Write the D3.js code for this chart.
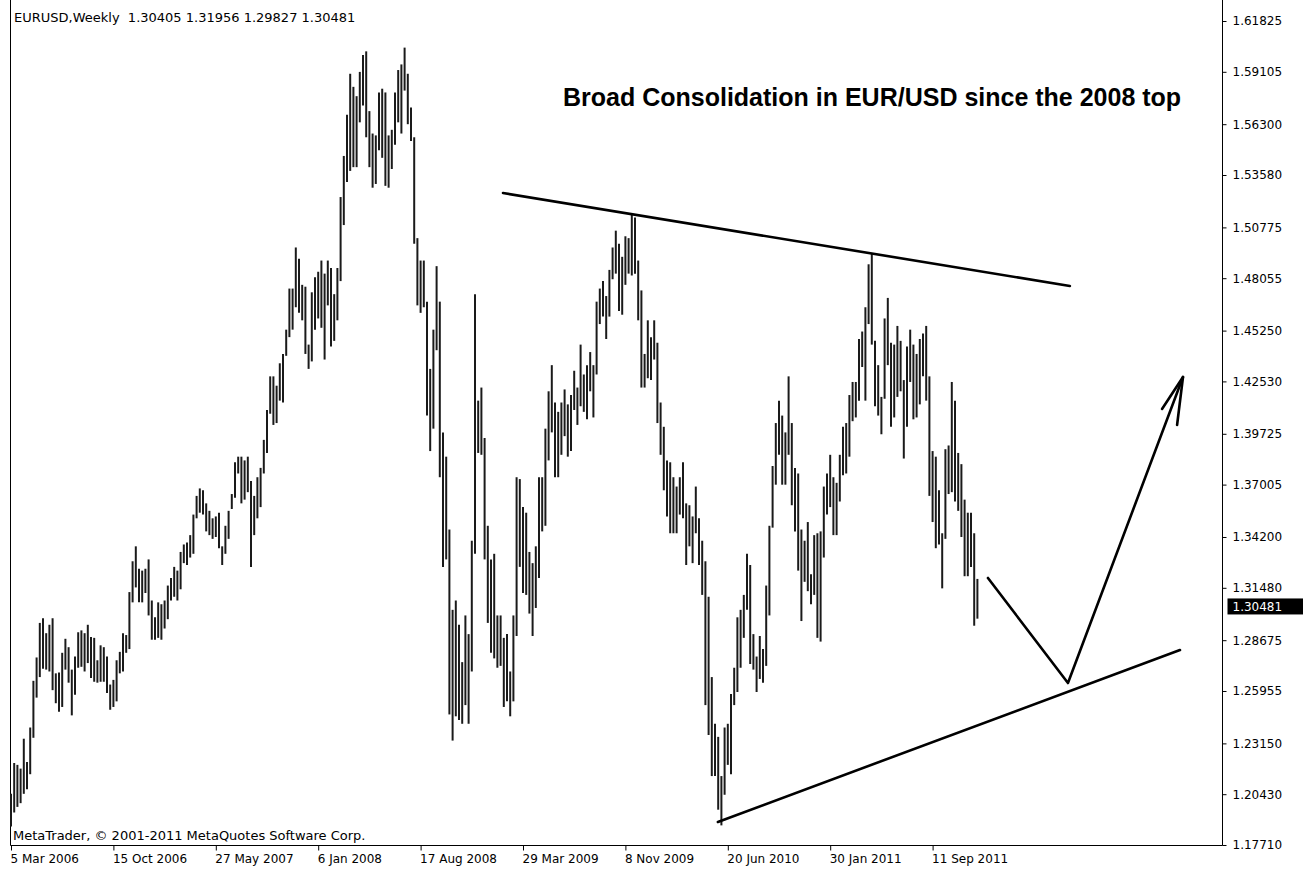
<!DOCTYPE html>
<html><head><meta charset="utf-8">
<script src="https://cdn.jsdelivr.net/npm/d3@7"></script>
<style>body{margin:0;background:#fff;} svg{display:block;}</style>
</head><body><svg id="c" width="1303" height="870"></svg>
<script>
// ---------- data ----------
const symbolName = "EURUSD,Weekly";
const lastBarOHLC = ["1.30405", "1.31956", "1.29827", "1.30481"];
const currentPrice = 1.30481;
const chartTitle = "Broad Consolidation in EUR/USD since the 2008 top";
const copyrightText = "MetaTrader, \u00A9 2001-2011 MetaQuotes Software Corp.";

// weekly highs / lows, one per week starting 5 Mar 2006
const weekHighs = [
1.2045,1.2210,1.2200,1.2180,1.2340,1.2215,1.2400,1.2650,1.2775,1.2960,
1.2985,1.2905,1.2950,1.2985,1.2690,1.2695,1.2800,1.2875,1.2830,1.2710,
1.2780,1.2910,1.2920,1.2905,1.2950,1.2885,1.2880,1.2760,1.2840,1.2830,
1.2780,1.2630,1.2655,1.2760,1.2805,1.2905,1.2895,1.3125,1.3290,1.3370,
1.3250,1.3240,1.3250,1.3300,1.3080,1.2990,1.3070,1.3060,1.3080,1.3160,
1.3200,1.3260,1.3240,1.3340,1.3380,1.3390,1.3430,1.3540,1.3640,1.3680,
1.3670,1.3600,1.3560,1.3520,1.3530,1.3550,1.3370,1.3480,1.3560,1.3650,
1.3820,1.3850,1.3850,1.3830,1.3850,1.3720,1.3640,1.3740,1.3790,1.3940,
1.4100,1.4280,1.4280,1.4230,1.4350,1.4400,1.4530,1.4750,1.4750,1.4970,
1.4910,1.4770,1.4760,1.4450,1.4730,1.4810,1.4840,1.4900,1.4830,1.4900,
1.4860,1.4720,1.4860,1.5240,1.5460,1.5680,1.5900,1.5830,1.5780,1.5910,
1.6000,1.6020,1.5700,1.5580,1.5570,1.5800,1.5820,1.5800,1.5570,1.5600,
1.5800,1.5920,1.5950,1.6040,1.5900,1.5720,1.5560,1.5020,1.4900,1.4900,
1.4680,1.4320,1.4530,1.4870,1.4680,1.3980,1.3850,1.3460,1.3030,1.3080,
1.2950,1.2750,1.3000,1.2900,1.3400,1.4720,1.4150,1.4220,1.3950,1.3480,
1.3300,1.3330,1.3000,1.3000,1.2880,1.2900,1.2700,1.3000,1.3740,1.3730,
1.3580,1.3550,1.3340,1.3280,1.3370,1.3740,1.3740,1.4000,1.4200,1.4340,
1.4140,1.4090,1.4140,1.4210,1.4130,1.4180,1.4310,1.4220,1.4450,1.4290,
1.4340,1.4410,1.4340,1.4680,1.4750,1.4790,1.4710,1.4850,1.4970,1.5060,
1.4990,1.4920,1.5030,1.5020,1.5144,1.5130,1.4900,1.4740,1.4400,1.4580,
1.4490,1.4580,1.4460,1.4140,1.4010,1.3830,1.3820,1.3740,1.3690,1.3740,
1.3820,1.3600,1.3590,1.3530,1.3690,1.3520,1.3400,1.3290,1.3100,1.2670,
1.2420,1.2350,1.2140,1.2400,1.2420,1.2580,1.2720,1.2990,1.3030,1.3110,
1.3330,1.3270,1.2900,1.2780,1.2890,1.2820,1.3160,1.3480,1.3800,1.4030,
1.4150,1.4070,1.3980,1.4280,1.4030,1.3790,1.3760,1.3460,1.3400,1.3500,
1.3220,1.3430,1.3440,1.3450,1.3690,1.3760,1.3860,1.3740,1.3710,1.3860,
1.4010,1.4030,1.4180,1.4250,1.4250,1.4480,1.4520,1.4650,1.4880,1.4940,
1.4470,1.4340,1.4170,1.4590,1.4700,1.4460,1.4450,1.4550,1.4470,1.4260,
1.4440,1.4530,1.4450,1.4400,1.4480,1.4510,1.4550,1.4280,1.3880,1.3850,
1.3670,1.3440,1.3890,1.3910,1.4250,1.4150,1.3870,1.3810,1.3620,1.3550,
1.3550,1.3440,1.31956
];
const weekLows = [
1.1870,1.1945,1.1975,1.1995,1.2045,1.2070,1.2150,1.2345,1.2560,1.2670,
1.2715,1.2710,1.2700,1.2600,1.2530,1.2485,1.2510,1.2710,1.2640,1.2465,
1.2575,1.2720,1.2725,1.2700,1.2745,1.2665,1.2645,1.2640,1.2645,1.2645,
1.2585,1.2495,1.2510,1.2540,1.2690,1.2700,1.2800,1.2820,1.3070,1.3150,
1.3070,1.3070,1.3120,1.3000,1.2870,1.2870,1.2880,1.2870,1.2930,1.2980,
1.3080,1.3100,1.3080,1.3140,1.3280,1.3270,1.3310,1.3330,1.3520,1.3550,
1.3540,1.3450,1.3430,1.3410,1.3420,1.3360,1.3270,1.3330,1.3410,1.3570,
1.3630,1.3760,1.3600,1.3620,1.3660,1.3260,1.3430,1.3520,1.3580,1.3760,
1.3870,1.4080,1.4020,1.4030,1.4150,1.4140,1.4390,1.4490,1.4530,1.4650,
1.4620,1.4580,1.4400,1.4320,1.4360,1.4530,1.4590,1.4540,1.4370,1.4660,
1.4440,1.4470,1.4580,1.4790,1.5090,1.5320,1.5380,1.5400,1.5400,1.5640,
1.5730,1.5560,1.5400,1.5290,1.5310,1.5490,1.5450,1.5300,1.5290,1.5390,
1.5520,1.5640,1.5580,1.5810,1.5630,1.5540,1.4990,1.4660,1.4620,1.4650,
1.4070,1.3880,1.4000,1.4420,1.3740,1.3260,1.3300,1.2470,1.2330,1.2460,
1.2440,1.2420,1.2520,1.2420,1.2700,1.3330,1.3870,1.3860,1.3300,1.2960,
1.2800,1.2770,1.2720,1.2730,1.2510,1.2540,1.2460,1.2540,1.2890,1.3260,
1.3120,1.3110,1.3010,1.2890,1.3040,1.3200,1.3450,1.3480,1.3830,1.3980,
1.3740,1.3740,1.3860,1.3960,1.3850,1.3880,1.4100,1.4020,1.4120,1.4090,
1.4050,1.4200,1.4060,1.4290,1.4560,1.4600,1.4480,1.4600,1.4800,1.4830,
1.4630,1.4610,1.4770,1.4830,1.4820,1.4830,1.4580,1.4220,1.4220,1.4270,
1.4260,1.4370,1.4030,1.3860,1.3670,1.3530,1.3440,1.3440,1.3440,1.3540,
1.3520,1.3270,1.3370,1.3280,1.3440,1.3270,1.3110,1.2520,1.2360,1.2140,
1.2140,1.1960,1.1876,1.2040,1.2200,1.2150,1.2520,1.2590,1.2720,1.2880,
1.3030,1.2740,1.2710,1.2590,1.2660,1.2640,1.2730,1.3000,1.3470,1.3700,
1.3860,1.3700,1.3700,1.3860,1.3590,1.3450,1.3240,1.2970,1.3180,1.3130,
1.3060,1.3110,1.2880,1.2860,1.3310,1.3540,1.3580,1.3430,1.3430,1.3610,
1.3750,1.3760,1.3850,1.4040,1.4060,1.4150,1.4330,1.4150,1.4560,1.4450,
1.4120,1.4070,1.3970,1.4160,1.4340,1.4010,1.4060,1.4170,1.4200,1.3840,
1.4010,1.4250,1.4050,1.4060,1.4130,1.4280,1.4150,1.3640,1.3500,1.3360,
1.3380,1.3145,1.3410,1.3650,1.3660,1.3610,1.3560,1.3420,1.3210,1.3210,
1.3260,1.2945,1.29827
];

const priceTicks = [1.61825,1.59105,1.56300,1.53580,1.50775,1.48055,1.45250,1.42530,
  1.39725,1.37005,1.34200,1.31480,1.28675,1.25955,1.23150,1.20430,1.17710];
const priceTickLabels = ["1.61825","1.59105","1.56300","1.53580","1.50775","1.48055","1.45250","1.42530",
  "1.39725","1.37005","1.34200","1.31480","1.28675","1.25955","1.23150","1.20430","1.17710"];
const timeTickWeeks = [0, 32, 64, 96, 128, 160, 192, 224, 256, 288];
const timeTickLabels = ["5 Mar 2006","15 Oct 2006","27 May 2007","6 Jan 2008","17 Aug 2008",
  "29 Mar 2009","8 Nov 2009","20 Jun 2010","30 Jan 2011","11 Sep 2011"];

// hand-drawn annotations, in (week index, price) units
const resistanceLine = [[153.75, 1.52617], [330.9, 1.47638]];
const supportLine = [[220.9, 1.18941], [365.3, 1.28150]];
const projectionPath = [[305.3, 1.32005], [330.3, 1.26383], [366.25, 1.42766]];
const arrowHead = [[359.7, 1.41053], [366.25, 1.42766], [364.4, 1.40196]];

// ---------- drawing ----------
const W = 1303, H = 870;
const plotLeft = 10.5, plotRight = 1222.5, plotBottom = 845.5;
const svg = d3.select("#c");
svg.append("rect").attr("width", W).attr("height", H).attr("fill", "#ffffff");

const x = d3.scaleLinear().domain([0, 302]).range([11, 11 + 302 * 3.2]);
const y = d3.scaleLinear().domain([1.17710, 1.61825]).range([845, 21]);

const smallFont = "'DejaVu Sans', Tahoma, sans-serif";
const smallSize = 12;
const noteSize = 13;

// frame
svg.append("line").attr("x1", plotLeft).attr("x2", plotLeft).attr("y1", 0).attr("y2", plotBottom)
  .attr("stroke", "#000").attr("stroke-width", 1);

// bars
const bars = weekHighs.map((h, i) => ({ i, h, l: weekLows[i] }));
svg.append("g").selectAll("line").data(bars).join("line")
  .attr("x1", d => x(d.i)).attr("x2", d => x(d.i))
  .attr("y1", d => y(d.h)).attr("y2", d => y(d.l))
  .attr("stroke", "#1a1a1a").attr("stroke-width", 2);

// right price axis
const yAxis = d3.axisRight(y).tickValues(priceTicks)
  .tickFormat((d, i) => priceTickLabels[i]).tickSize(4).tickPadding(6);
const gy = svg.append("g").attr("transform", `translate(${plotRight},0)`).call(yAxis);
gy.select(".domain").remove();
gy.selectAll("text").attr("font-family", smallFont).attr("font-size", smallSize).attr("fill", "#000");
gy.selectAll("line").attr("stroke", "#000");
svg.append("line").attr("x1", plotRight).attr("x2", plotRight).attr("y1", 0).attr("y2", plotBottom)
  .attr("stroke", "#000").attr("stroke-width", 1);

// bottom time axis
const xAxis = d3.axisBottom(x).tickValues(timeTickWeeks)
  .tickFormat((d, i) => timeTickLabels[i]).tickSize(5).tickPadding(4);
const gx = svg.append("g").attr("transform", `translate(0,${plotBottom})`).call(xAxis);
gx.select(".domain").remove();
gx.selectAll("text").attr("font-family", smallFont).attr("font-size", smallSize).attr("fill", "#000")
  .attr("text-anchor", "start").attr("dx", -1);
gx.selectAll("line").attr("stroke", "#000");
svg.append("line").attr("x1", plotLeft).attr("x2", plotRight).attr("y1", plotBottom).attr("y2", plotBottom)
  .attr("stroke", "#000").attr("stroke-width", 1);

// current price label
const cy = y(currentPrice);
svg.append("rect").attr("x", plotRight + 5).attr("y", cy - 8).attr("width", 76).attr("height", 16).attr("fill", "#000");
svg.append("text").attr("x", plotRight + 10).attr("y", cy).attr("dy", "0.35em")
  .attr("font-family", smallFont).attr("font-size", smallSize).attr("fill", "#fff").text(currentPrice.toFixed(5));

// header
svg.append("text").attr("x", 14).attr("y", 22).attr("font-family", smallFont).attr("font-size", noteSize)
  .attr("fill", "#000").attr("xml:space", "preserve")
  .text(symbolName + "  " + lastBarOHLC.join(" "));

// copyright
svg.append("text").attr("x", 13).attr("y", 840).attr("font-family", smallFont).attr("font-size", noteSize)
  .attr("fill", "#000").text(copyrightText);

// title
svg.append("text").attr("x", 563).attr("y", 106)
  .attr("font-family", "'Liberation Sans', Arial, sans-serif").attr("font-weight", "bold")
  .attr("font-size", 25).attr("fill", "#000").text(chartTitle);

// annotations
const line = d3.line().x(d => x(d[0])).y(d => y(d[1]));
const ann = svg.append("g").attr("fill", "none").attr("stroke", "#000")
  .attr("stroke-width", 2.6).attr("stroke-linecap", "round").attr("stroke-linejoin", "round");
ann.append("path").attr("d", line(resistanceLine));
ann.append("path").attr("d", line(supportLine));
ann.append("path").attr("d", line(projectionPath));
ann.append("path").attr("d", line(arrowHead));
</script>
</body></html>
